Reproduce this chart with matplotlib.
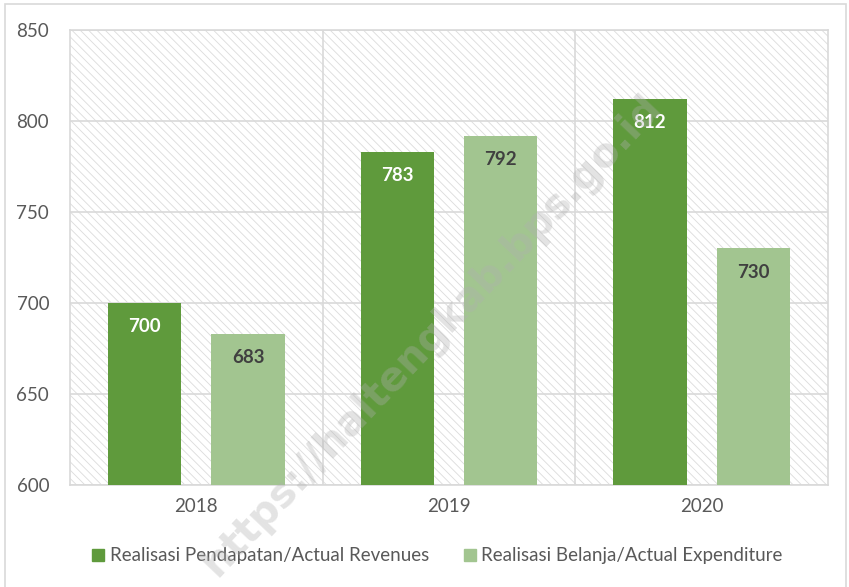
import matplotlib
matplotlib.use("Agg")
import matplotlib.pyplot as plt
from matplotlib.patches import Rectangle
from matplotlib.lines import Line2D
import numpy as np

# Data
tahun = ["2018", "2019", "2020"]
pendapatan = [700, 783, 812]
belanja = [683, 792, 730]
label_pendapatan = "Realisasi Pendapatan/Actual Revenues"
label_belanja = "Realisasi Belanja/Actual Expenditure"
y_ticks = [600, 650, 700, 750, 800, 850]

HIJAU_TUA = "#5f9a3c"
HIJAU_MUDA = "#a2c590"
ABU = "#d9d9d9"
TEKS = "#595959"

plt.rcParams["font.family"] = ["Lato", "DejaVu Sans"]
plt.rcParams["hatch.linewidth"] = 0.6
plt.rcParams["hatch.color"] = "#dcdcdc"

fig = plt.figure(figsize=(8.49, 5.87), dpi=100)
ax = fig.add_axes([70 / 849, 1 - 485 / 587, (828 - 70) / 849, (485 - 30) / 587])

# latar arsir
ax.add_patch(Rectangle((0, 0), 1, 1, transform=ax.transAxes, facecolor="white",
                       edgecolor="#dcdcdc", hatch="\\\\\\\\", linewidth=0, zorder=0))

x = np.arange(len(tahun))
lebar = 0.29
geser = 0.205
b1 = ax.bar(x - geser, pendapatan, lebar, color=HIJAU_TUA, zorder=3)
b2 = ax.bar(x + geser, belanja, lebar, color=HIJAU_MUDA, zorder=3)

for rect, v in zip(b1, pendapatan):
    ax.annotate(str(v), (rect.get_x() + rect.get_width() / 2, v), xytext=(0, -17),
                textcoords="offset points", ha="center", va="center",
                color="white", fontsize=13.5, fontweight="bold", zorder=5)
for rect, v in zip(b2, belanja):
    ax.annotate(str(v), (rect.get_x() + rect.get_width() / 2, v), xytext=(0, -17),
                textcoords="offset points", ha="center", va="center",
                color="#404040", fontsize=13.5, fontweight="bold", zorder=5)

ax.set_xlim(-0.5, 2.5)
ax.set_ylim(600, 850)
ax.set_yticks(y_ticks)
ax.set_xticks(x)
ax.set_xticklabels(tahun)
ax.tick_params(axis="both", length=0, colors=TEKS, labelsize=13.5)
ax.tick_params(axis="y", pad=15)
ax.tick_params(axis="x", pad=9)

for yv in y_ticks:
    ax.axhline(yv, color=ABU, linewidth=1.2, zorder=1)
for xv in [0.5, 1.5]:
    ax.axvline(xv, color=ABU, linewidth=1.2, zorder=1)
for s in ax.spines.values():
    s.set_color(ABU)
    s.set_linewidth(1.2)

handles = [Line2D([], [], marker="s", linestyle="none", markersize=9,
                  markerfacecolor=HIJAU_TUA, markeredgecolor=HIJAU_TUA),
           Line2D([], [], marker="s", linestyle="none", markersize=9,
                  markerfacecolor=HIJAU_MUDA, markeredgecolor=HIJAU_MUDA)]
fig.legend(handles, [label_pendapatan, label_belanja], loc="center",
           bbox_to_anchor=(435 / 849, 1 - 556 / 587), ncol=2, frameon=False,
           fontsize=13.5, labelcolor=TEKS, handletextpad=0.0, columnspacing=1.6,
           handlelength=1.2)

# watermark
fig.text(432 / 849, 1 - 335 / 587, "https://haltengkab.bps.go.id", rotation=46.5,
         ha="center", va="center", fontsize=29, fontweight="bold",
         family=["DejaVu Sans"], color="#b0b0b0", alpha=0.35, zorder=10)

# bingkai luar
fig.add_artist(Rectangle((5 / 849, -0.01), 841 / 849, 1 - 4 / 587 + 0.01,
                         transform=fig.transFigure, fill=False, edgecolor=ABU,
                         linewidth=1.2))

fig.savefig("out.png", dpi=100)
